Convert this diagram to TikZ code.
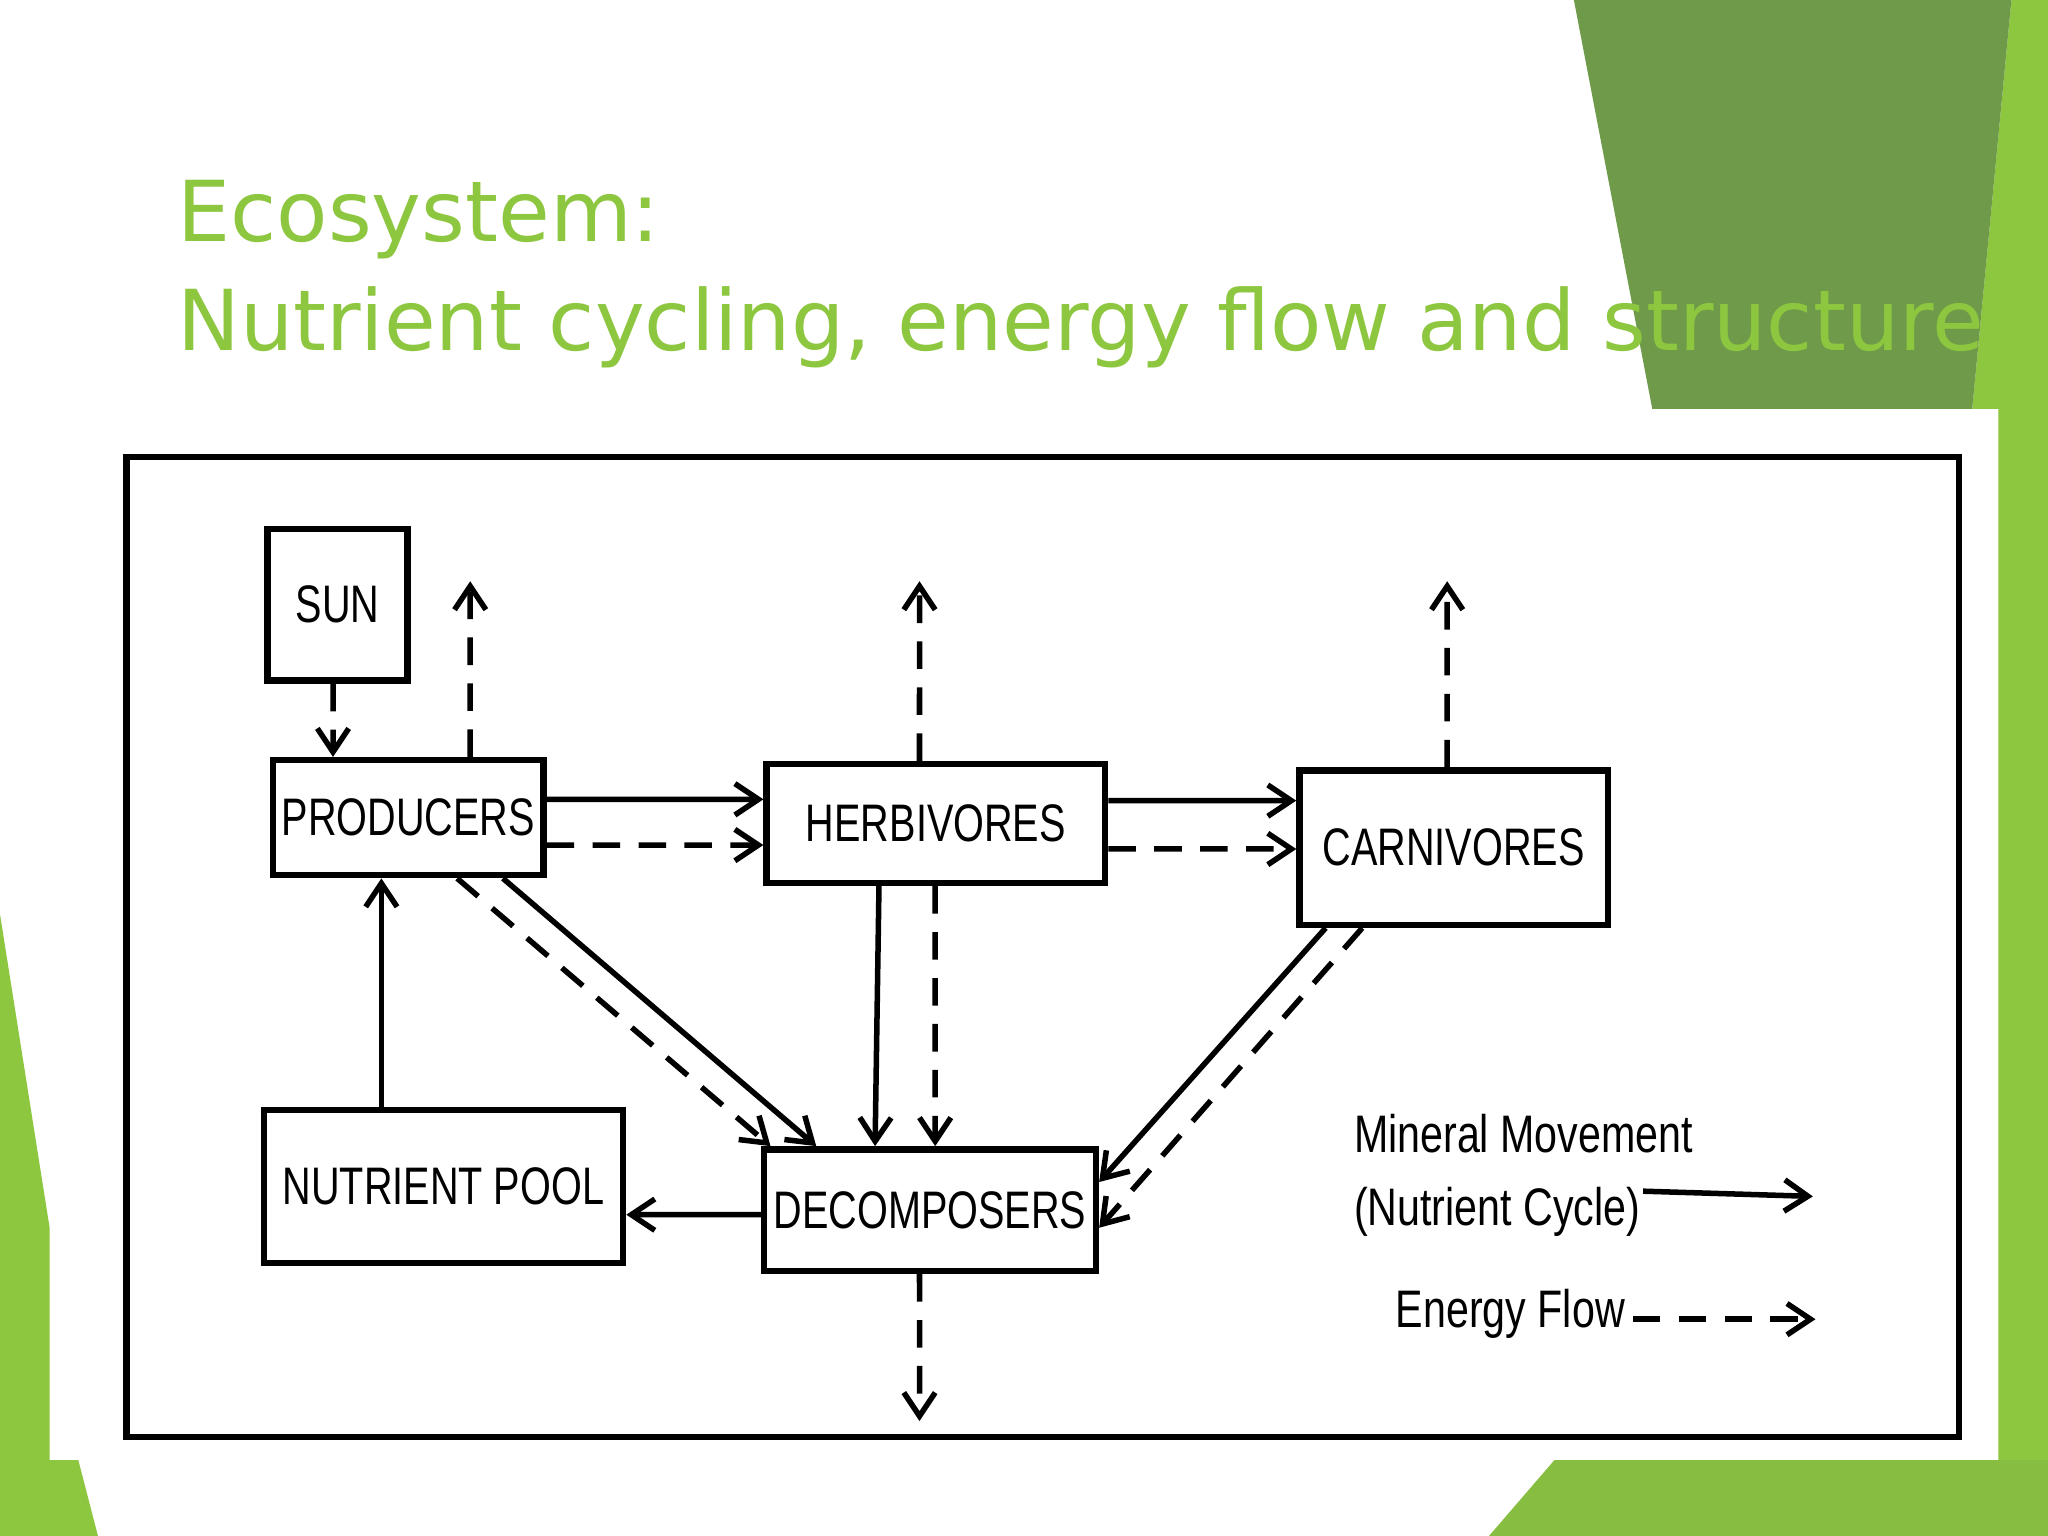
\documentclass[tikz,border=0pt]{standalone}
\usepackage{fontspec}
\setmainfont{Liberation Sans}
\newfontfamily\titlefont{DejaVu Sans}
\usetikzlibrary{arrows.meta}
\definecolor{lg}{HTML}{8DC63F}
\definecolor{dg}{HTML}{6E9A4A}
\definecolor{tg}{HTML}{8DC63F}
\begin{document}
\begin{tikzpicture}[x=0.01cm,y=-0.01cm,
 box/.style={draw,line width=1.4pt,inner sep=0pt,font=\fontsize{11.5}{14}\selectfont},
 sol/.style={line width=1.2pt,-{Straight Barb[length=1.8mm,width=2.4mm]}},
 dsh/.style={sol,dash pattern=on 6pt off 4pt},
 ttl/.style={anchor=base west,text=tg,font=\titlefont\fontsize{18.3}{22}\selectfont,inner sep=0pt}]
\useasboundingbox (0,0) rectangle (1568,1176);
\fill[white] (0,0) rectangle (1568,1176);
% background decoration
\fill[lg] (1540,0) -- (1568,0) -- (1568,1176) -- (1530,1176) -- (1530,313) -- (1510,313) -- cycle;
\fill[dg] (1205,0) -- (1540,0) -- (1510,313) -- (1265,313) -- cycle;
\fill[lg] (0,700) -- (38,940) -- (38,1118) -- (60,1118) -- (75,1176) -- (0,1176) -- cycle;
\fill[lg!80!dg] (1140,1176) -- (1190,1118) -- (1568,1118) -- (1568,1176) -- cycle;
\node[ttl] (t1) at (135,185) {Ecosystem:};
\node[ttl] (t2) at (135,268) {Nutrient cycling, energy flow and structure};
\fill[white] (38,313) rectangle (1530,1118);
\draw[line width=1.4pt] (97,350) rectangle (1500,1100);
% boxes
\node[box,minimum width=1.07cm,minimum height=1.16cm] (sun) at (258.5,463) {\scalebox{0.75}[1]{SUN}};
\node[box,minimum width=2.07cm,minimum height=0.88cm] (prod) at (312.5,626) {\scalebox{0.75}[1]{PRODUCERS}};
\node[box,minimum width=2.59cm,minimum height=0.91cm] (herb) at (716.5,630.5) {\scalebox{0.75}[1]{HERBIVORES}};
\node[box,minimum width=2.36cm,minimum height=1.18cm] (carn) at (1113,649) {\scalebox{0.75}[1]{CARNIVORES}};
\node[box,minimum width=2.75cm,minimum height=1.17cm] (nutr) at (339.5,908.5) {\scalebox{0.75}[1]{NUTRIENT POOL}};
\node[box,minimum width=2.54cm,minimum height=0.93cm] (deco) at (712,926.5) {\scalebox{0.75}[1]{DECOMPOSERS}};
% free ends
\coordinate (u1) at (360,445);
\coordinate (u2) at (704,445);
\coordinate (u3) at (1108,445);
\coordinate (d1) at (704,1088);
% connectors
\draw[dsh] ([xshift=-0.035cm]sun.south) -- ([xshift=-0.575cm]prod.north);
\draw[dsh] ([xshift=0.475cm]prod.north) -- (u1);
\draw[dsh] ([xshift=-0.125cm]herb.north) -- (u2);
\draw[dsh] ([xshift=-0.05cm]carn.north) -- (u3);
\draw[dsh] ([xshift=-0.08cm]deco.south) -- (d1);
\draw[sol] ([yshift=0.14cm]prod.east) -- ([yshift=0.185cm]herb.west);
\draw[dsh] ([yshift=-0.21cm]prod.east) -- ([yshift=-0.165cm]herb.west);
\draw[sol] ([yshift=0.175cm]herb.east) -- ([yshift=0.36cm]carn.west);
\draw[dsh] ([yshift=-0.195cm]herb.east) -- ([yshift=-0.01cm]carn.west);
\draw[sol] ([xshift=0.725cm]prod.south) -- ([xshift=-0.87cm]deco.north);
\draw[dsh] ([xshift=0.375cm]prod.south) -- ([xshift=-1.22cm]deco.north);
\draw[sol] ([xshift=-0.435cm]herb.south) -- ([xshift=-0.42cm]deco.north);
\draw[dsh] ([xshift=-0.005cm]herb.south) -- ([xshift=0.04cm]deco.north);
\draw[sol] ([xshift=-0.98cm]carn.south) -- ([yshift=0.215cm]deco.east);
\draw[dsh] ([xshift=-0.7cm]carn.south) -- ([yshift=-0.135cm]deco.east);
\draw[sol] (nutr.north -| 292,0) -- (prod.south -| 292,0);
\draw[sol] ([yshift=-0.035cm]deco.west) -- (nutr.east |- 0,930);
% legend
\node[anchor=west,inner sep=0pt,font=\fontsize{11.5}{14}\selectfont,align=left] (lg1) at (1036,900) {\scalebox{0.78}[1]{Mineral Movement}\\[2pt]\scalebox{0.78}[1]{(Nutrient Cycle)}};
\coordinate (l1a) at (1258,912); \coordinate (l1b) at (1388,916);
\draw[sol] (l1a) -- (l1b);
\node[anchor=west,inner sep=0pt,font=\fontsize{11.5}{14}\selectfont] (lg2) at (1068,1006) {\scalebox{0.78}[1]{Energy Flow}};
\coordinate (l2a) at (1250,1010); \coordinate (l2b) at (1390,1010);
\draw[dsh] (l2a) -- (l2b);
\end{tikzpicture}
\end{document}
